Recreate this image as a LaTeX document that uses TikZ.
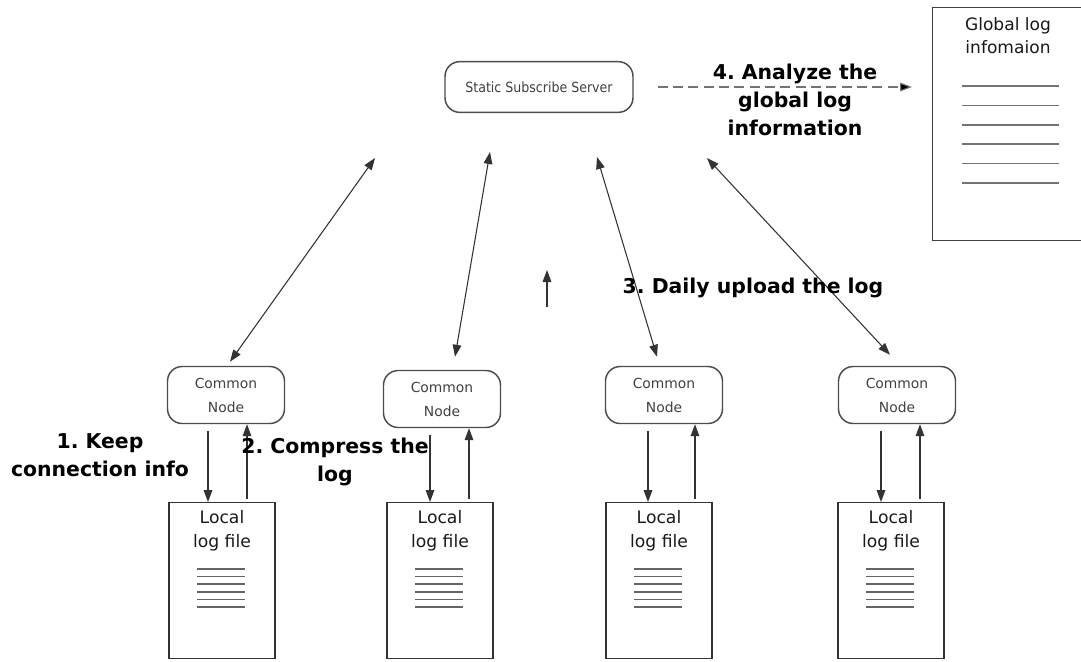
\documentclass[tikz,border=0pt]{standalone}
\usepackage{fontspec}
\setmainfont{DejaVu Sans}
\newfontfamily\condfont{DejaVu Sans Condensed}
\usetikzlibrary{arrows.meta,calc}

\tikzset{
  tip/.style={-{Triangle[length=9pt,width=6.5pt]}},
  dbltip/.style={{Triangle[length=9pt,width=6.5pt]}-{Triangle[length=9pt,width=6.5pt]}},
  conn/.style={draw=black!80, line width=0.8pt},
  roundbox/.style={draw=black!70, line width=1.1pt, rounded corners=11pt, fill=white,
    inner sep=0pt, align=center, text=black!75},
  server/.style={roundbox, minimum width=141pt, minimum height=38pt,
    font=\condfont\fontsize{10.5}{12}\selectfont},
  common/.style={roundbox, minimum width=87.75pt, minimum height=42.75pt,
    font=\fontsize{10.4}{18}\selectfont},
  filebox/.style={draw=black!80, line width=1.1pt, minimum width=79.5pt,
    minimum height=117pt, inner sep=0pt, anchor=north},
  filetext/.style={align=center, font=\fontsize{12.9}{18}\selectfont, text=black!90},
  steplabel/.style={align=center, font=\bfseries\fontsize{15.3}{21}\selectfont},
  rule/.style={line width=1.3pt}
}

\begin{document}
\frenchspacing
\begin{tikzpicture}[x=0.75pt,y=-0.75pt]
\useasboundingbox (0,0) rectangle (1081,661);

% central server
\node[server] (srv) at (539,87) {Static Subscribe Server};

% global log document
\node[draw=black!75, line width=1.1pt, minimum width=114pt, minimum height=174.75pt,
      anchor=north west, inner sep=0pt] (glob) at (932,7) {};
\node[filetext, font=\fontsize{12.8}{17.25}\selectfont] (globtext) at (1008,36) {Global log\\infomaion};
\foreach \k in {0,...,5}
  \draw[rule, black!55] ($(glob.north west)+(30,79+19.4*\k)$) -- ++(97,0);

% analysis arrow
\coordinate (dashend) at ($(srv.east -| glob.west)+(-20,0)$);
\draw[conn, black!55, dash pattern=on 7.5pt off 4pt, -{Triangle[length=9pt,width=6.5pt,fill=black]},
      shorten <=18pt] (srv.east) -- (dashend);
\node[steplabel] (lab4) at (795,100) {4. Analyze the\\global log\\information};

% four client columns: index / node x / node y / file x / down offset / up offset /
% upper tip / lower tip shift
\foreach \i/\cx/\cy/\fx/\dn/\up/\tx/\ty/\sx/\sy in {
   1/226/395/222/-14/25/375/158/4/-4,
   2/442/399/440/-10/29/490/152/13/-13,
   3/664/395/659/-11/36/597/157/-7/-9,
   4/897/395/891/-10/29/707/158/-7/-11}{
  \node[common] (c\i) at (\cx,\cy) {Common\\Node};
  \node[filebox] (f\i) at (\fx,502) {};
  \node[filetext] (ft\i) at ($(f\i.north)+(0,29)$) {Local\\log file};
  \foreach \k in {0,...,5}
    \draw[rule, black!60] ($(f\i.north)+(-25,67+7.6*\k)$) -- ++(48,0);
  \draw[conn, tip] ($(c\i.south)+(\fx-\cx+\dn,7)$) -- ($(f\i.north)+(\dn,0)$);
  \draw[conn, tip] ($(f\i.north)+(\up,-3)$) -- ($(c\i.south)+(\fx-\cx+\up,0)$);
  \coordinate (top\i) at (\tx,\ty);
  \draw[conn, dbltip] (top\i) -- ($(c\i.north)+(\sx,\sy)$);
}

% lone upward arrow
\coordinate (ua) at (547,307);
\coordinate (ub) at (547,270);
\draw[conn, tip] (ua) -- (ub);

% step labels
\node[steplabel] (lab3) at (753,288) {3. Daily upload the log};
\node[steplabel] (lab1) at (100,455) {1. Keep\\connection info};
\node[steplabel] (lab2) at (335,462) {2. Compress the\\log};
\end{tikzpicture}
\end{document}
